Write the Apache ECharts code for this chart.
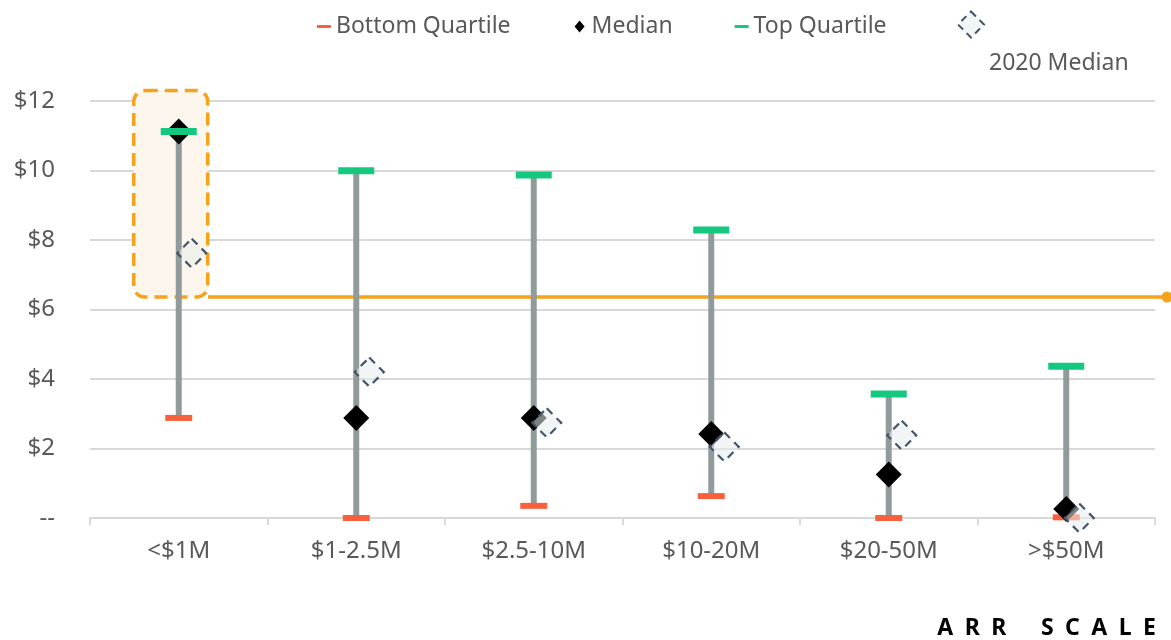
<!DOCTYPE html>
<html>
<head>
<meta charset="utf-8">
<script src="https://cdn.jsdelivr.net/npm/echarts@6/dist/echarts.min.js"></script>
<style>
html,body{margin:0;padding:0;background:#fff;}
#chart{width:1171px;height:640px;}
</style>
</head>
<body>
<div id="chart"></div>
<script>
const categories = ['<$1M', '$1-2.5M', '$2.5-10M', '$10-20M', '$20-50M', '>$50M'];
const bottomQuartile = [2.88, 0.0, 0.35, 0.63, 0.0, 0.02];
const median = [11.12, 2.88, 2.88, 2.42, 1.25, 0.26];
const topQuartile = [11.12, 9.99, 9.87, 8.29, 3.57, 4.37];
const median2020 = [7.62, 4.2, 2.74, 2.05, 2.38, 0.0];
const yTicks = [0, 2, 4, 6, 8, 10, 12];
const referenceLine = 6.36;
const highlight = { category: 0, from: 6.36, to: 12.3 };

const FONT = 'Noto Sans';
const GREY = '#595959';
const chart = echarts.init(document.getElementById('chart'));

const stemData = categories.map((c, i) => [i, bottomQuartile[i], topQuartile[i]]);

chart.setOption({
  animation: false,
  textStyle: { fontFamily: FONT },
  legend: [
    {
      left: 312, top: 10, itemGap: 62, itemWidth: 14, itemHeight: 14,
      textStyle: { fontFamily: FONT, fontSize: 23, color: GREY },
      data: [
        { name: 'Bottom Quartile', icon: 'path://M0,0 L14,0 L14,3 L0,3 Z' },
        { name: 'Median', icon: 'path://M0,0 M14,14 M7,1 L12,7 L7,13 L2,7 Z' },
        { name: 'Top Quartile', icon: 'path://M0,0 L14,0 L14,3 L0,3 Z' }
      ]
    },
    {
      left: 952, top: -39, itemWidth: 26, itemHeight: 26, itemGap: 4,
      textStyle: { fontFamily: FONT, fontSize: 23, color: GREY, lineHeight: 39 },
      formatter: name => '\n\n' + name,
      data: [{ name: '2020 Median', icon: 'diamond',
        itemStyle: { color: 'rgba(232,236,236,0.55)', borderColor: '#44546a', borderWidth: 2, borderType: [7, 5] } }]
    }
  ],
  grid: [
    { left: 90, right: 16, top: 101, bottom: 122 },
    { left: 208, right: 4, top: 101, bottom: 122 }
  ],
  xAxis: [
    {
      type: 'category', data: categories, gridIndex: 0,
      axisLine: { lineStyle: { color: '#d9d9d9', width: 2 } },
      axisTick: { show: true, length: 7, lineStyle: { color: '#d9d9d9', width: 2 } },
      axisLabel: { fontFamily: FONT, fontSize: 24, color: GREY, margin: 21 }
    },
    { type: 'value', gridIndex: 1, min: 0, max: 1, show: false }
  ],
  yAxis: [
    {
      type: 'value', gridIndex: 0, min: 0, max: 12, interval: 2,
      axisLine: { show: false }, axisTick: { show: false },
      splitLine: { lineStyle: { color: '#d9d9d9', width: 2 } },
      axisLabel: {
        fontFamily: FONT, fontSize: 24, color: GREY, margin: 35,
        formatter: v => v === 0 ? '--' : '$' + v
      }
    },
    { type: 'value', gridIndex: 1, min: 0, max: 12, show: false }
  ],
  series: [
    {
      type: 'custom', name: 'highlight', xAxisIndex: 0, yAxisIndex: 0, clip: false, z: 1,
      silent: true,
      data: [[highlight.category, highlight.from, highlight.to]],
      renderItem: (params, api) => {
        const p1 = api.coord([api.value(0), api.value(2)]);
        const p0 = api.coord([api.value(0), api.value(1)]);
        const w = 74, shift = -8;
        return {
          type: 'rect',
          shape: { x: p0[0] - w / 2 + shift, y: p1[1], width: w, height: p0[1] - p1[1], r: 11 },
          style: { fill: '#fdf6ec', stroke: '#f7a21b', lineWidth: 3.5, lineDash: [13, 7] }
        };
      }
    },
    {
      type: 'line', name: 'ref', xAxisIndex: 1, yAxisIndex: 1, z: 2,
      data: [{ value: [0, referenceLine], symbol: 'none' }, { value: [1, referenceLine] }],
      symbol: 'circle', symbolSize: 11, showSymbol: true,
      lineStyle: { color: '#f7a21b', width: 3.5 },
      itemStyle: { color: '#f7a21b' }
    },
    {
      type: 'custom', name: 'stem', z: 3, data: stemData,
      renderItem: (params, api) => {
        const a = api.coord([api.value(0), api.value(1)]);
        const b = api.coord([api.value(0), api.value(2)]);
        return { type: 'line', shape: { x1: a[0], y1: a[1], x2: b[0], y2: b[1] },
          style: { stroke: '#919b9b', lineWidth: 6 } };
      }
    },
    {
      type: 'scatter', name: 'Bottom Quartile', z: 4, data: bottomQuartile,
      symbol: 'rect', symbolSize: [27, 6], itemStyle: { color: '#f9603e', opacity: 1 }
    },
    {
      type: 'scatter', name: 'Median', z: 5, data: median,
      symbol: 'diamond', symbolSize: 26, itemStyle: { color: '#000', opacity: 1 }
    },
    {
      type: 'scatter', name: 'Top Quartile', z: 6, data: topQuartile,
      symbol: 'rect', symbolSize: [36, 7], itemStyle: { color: '#14c97f', opacity: 1 }
    },
    {
      type: 'scatter', name: '2020 Median', z: 7, data: median2020,
      symbol: 'diamond', symbolSize: 29, symbolOffset: [13, 0],
      itemStyle: { color: 'rgba(232,236,236,0.55)', borderColor: '#44546a', borderWidth: 2.2,
        borderType: [8, 6], opacity: 1 }
    }
  ],
  graphic: [{
    type: 'text', right: 15, bottom: 0,
    style: { text: 'A\u2002R\u2002R\u2002\u2002\u2002S\u2002C\u2002A\u2002L\u2002E', fontFamily: FONT, fontWeight: 'bold', fontSize: 23, fill: '#000' }
  }]
});
</script>
</body>
</html>
